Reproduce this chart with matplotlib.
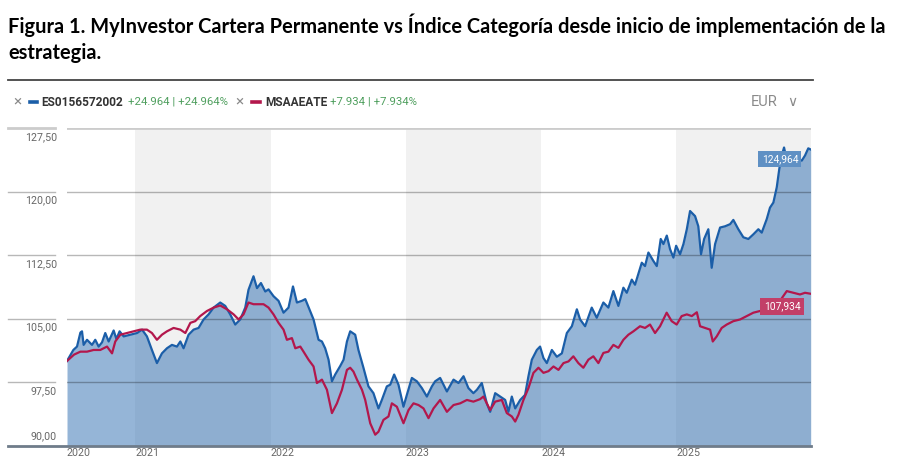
import matplotlib
matplotlib.use("Agg")
import matplotlib.pyplot as plt
from matplotlib.lines import Line2D

W, H = 917, 473

# fund (ES0156572002) and category index (MSAAEATE), base 100, x in fractional years
fund_t = [2020.495, 2020.542, 2020.569, 2020.594, 2020.606, 2020.618, 2020.643, 2020.680, 2020.704, 2020.729,
          2020.754, 2020.778, 2020.803, 2020.840, 2020.860, 2020.884, 2020.914, 2020.963, 2021.013, 2021.050,
          2021.086, 2021.123, 2021.160, 2021.197, 2021.234, 2021.271, 2021.308, 2021.333, 2021.357, 2021.394,
          2021.431, 2021.468, 2021.505, 2021.542, 2021.579, 2021.628, 2021.665, 2021.702, 2021.739, 2021.776,
          2021.813, 2021.837, 2021.874, 2021.900, 2021.929, 2021.961, 2021.985, 2022.022, 2022.059, 2022.096,
          2022.133, 2022.166, 2022.195, 2022.232, 2022.257, 2022.293, 2022.318, 2022.355, 2022.380, 2022.404,
          2022.429, 2022.454, 2022.478, 2022.515, 2022.540, 2022.565, 2022.589, 2022.626, 2022.650, 2022.687,
          2022.724, 2022.761, 2022.798, 2022.823, 2022.860, 2022.885, 2022.914, 2022.946, 2022.983, 2023.008,
          2023.045, 2023.082, 2023.119, 2023.156, 2023.193, 2023.217, 2023.254, 2023.304, 2023.353, 2023.390,
          2023.427, 2023.463, 2023.500, 2023.526, 2023.562, 2023.599, 2023.624, 2023.661, 2023.698, 2023.735,
          2023.759, 2023.784, 2023.809, 2023.846, 2023.882, 2023.907, 2023.932, 2023.969, 2023.993, 2024.018,
          2024.043, 2024.080, 2024.117, 2024.154, 2024.191, 2024.228, 2024.265, 2024.289, 2024.326, 2024.375,
          2024.412, 2024.461, 2024.498, 2024.535, 2024.572, 2024.609, 2024.634, 2024.671, 2024.695, 2024.745,
          2024.769, 2024.794, 2024.831, 2024.856, 2024.885, 2024.905, 2024.930, 2024.954, 2024.979, 2024.999,
          2025.028, 2025.053, 2025.078, 2025.102, 2025.139, 2025.163, 2025.183, 2025.206, 2025.237, 2025.262,
          2025.287, 2025.324, 2025.361, 2025.398, 2025.422, 2025.459, 2025.496, 2025.533, 2025.570, 2025.607,
          2025.632, 2025.669, 2025.693, 2025.718, 2025.743, 2025.762, 2025.780, 2025.797, 2025.817, 2025.841,
          2025.866, 2025.891, 2025.928, 2025.952, 2025.976, 2025.994]
fund_v = [100.0, 101.3, 101.7, 103.35, 103.5, 101.9, 102.5, 101.9, 102.5, 101.7,
          102.2, 103.3, 102.3, 103.6, 102.6, 103.5, 102.9, 103.1, 103.3, 103.7,
          102.9, 101.3, 99.75, 100.9, 101.5, 101.9, 101.7, 102.3, 101.5, 103.1,
          103.7, 103.9, 104.9, 105.5, 106.3, 106.9, 106.5, 105.5, 104.3, 104.9,
          106.3, 108.4, 110.0, 108.6, 109.2, 108.2, 108.45, 107.65, 107.1, 105.7,
          106.3, 108.8, 106.9, 107.1, 107.3, 105.9, 104.9, 102.5, 102.3, 101.5,
          100.15, 97.6, 98.4, 99.4, 100.15, 102.3, 103.5, 103.1, 101.3, 99.2,
          97.0, 96.2, 94.4, 95.4, 97.0, 97.2, 98.4, 97.2, 94.6, 96.0,
          98.0, 97.6, 96.8, 95.8, 97.0, 97.6, 98.0, 96.4, 97.8, 97.4,
          98.2, 96.8, 96.2, 96.6, 97.4, 95.0, 94.0, 96.2, 95.8, 95.4,
          94.0, 95.8, 94.4, 95.4, 96.0, 98.2, 100.15, 101.3, 101.7, 100.35,
          99.75, 101.3, 100.5, 100.9, 103.3, 104.1, 106.1, 104.9, 104.1, 106.3,
          105.1, 106.9, 106.3, 108.25, 106.5, 108.65, 108.05, 109.6, 109.0, 111.6,
          111.2, 112.8, 111.8, 111.2, 114.4, 113.8, 114.8, 113.2, 112.2, 113.6,
          112.6, 113.8, 115.55, 117.7, 117.1, 115.9, 112.6, 114.4, 115.55, 111.0,
          113.8, 115.75, 115.9, 116.15, 116.65, 115.55, 114.6, 114.4, 114.95, 115.55,
          115.15, 116.75, 118.1, 118.7, 120.5, 122.7, 124.25, 125.2, 123.65, 124.05,
          123.25, 123.85, 123.65, 124.25, 125.1, 124.964]

index_t = [2020.495, 2020.547, 2020.594, 2020.643, 2020.692, 2020.741, 2020.791, 2020.828, 2020.852, 2020.889,
           2020.939, 2020.987, 2021.037, 2021.086, 2021.123, 2021.160, 2021.197, 2021.234, 2021.283, 2021.333,
           2021.370, 2021.407, 2021.443, 2021.480, 2021.530, 2021.579, 2021.628, 2021.678, 2021.727, 2021.764,
           2021.800, 2021.837, 2021.874, 2021.900, 2021.948, 2021.985, 2022.022, 2022.059, 2022.096, 2022.121,
           2022.158, 2022.183, 2022.220, 2022.244, 2022.281, 2022.318, 2022.343, 2022.380, 2022.417, 2022.454,
           2022.491, 2022.528, 2022.565, 2022.589, 2022.613, 2022.639, 2022.676, 2022.700, 2022.737, 2022.774,
           2022.798, 2022.835, 2022.872, 2022.897, 2022.934, 2022.983, 2023.020, 2023.057, 2023.094, 2023.131,
           2023.168, 2023.205, 2023.254, 2023.304, 2023.353, 2023.402, 2023.452, 2023.500, 2023.550, 2023.574,
           2023.624, 2023.661, 2023.710, 2023.747, 2023.784, 2023.809, 2023.833, 2023.870, 2023.907, 2023.944,
           2023.981, 2024.018, 2024.055, 2024.092, 2024.129, 2024.166, 2024.203, 2024.239, 2024.276, 2024.313,
           2024.350, 2024.387, 2024.424, 2024.461, 2024.498, 2024.535, 2024.572, 2024.609, 2024.646, 2024.683,
           2024.732, 2024.769, 2024.806, 2024.843, 2024.880, 2024.929, 2024.966, 2025.003, 2025.040, 2025.078,
           2025.115, 2025.152, 2025.176, 2025.213, 2025.250, 2025.270, 2025.299, 2025.336, 2025.373, 2025.422,
           2025.472, 2025.521, 2025.570, 2025.619, 2025.669, 2025.718, 2025.767, 2025.817, 2025.866, 2025.915,
           2025.952, 2025.994]
index_v = [100.0, 100.75, 101.1, 101.1, 101.3, 101.3, 101.7, 100.9, 102.3, 103.1,
           103.3, 103.5, 103.7, 103.7, 103.3, 102.5, 103.1, 103.5, 103.9, 103.7,
           103.3, 104.5, 104.7, 105.3, 105.9, 106.3, 106.55, 106.1, 105.5, 104.9,
           105.5, 106.9, 106.7, 106.7, 106.7, 106.3, 105.5, 104.5, 103.7, 102.5,
           102.7, 101.5, 101.7, 101.1, 100.15, 99.35, 97.4, 97.8, 96.6, 93.85,
           95.0, 96.6, 98.95, 99.2, 98.75, 97.8, 96.6, 95.4, 92.65, 91.3,
           91.65, 93.05, 93.45, 95.0, 94.6, 92.65, 94.2, 95.0, 94.8, 94.4,
           93.25, 94.4, 95.4, 94.0, 94.8, 95.0, 95.4, 95.2, 95.5, 95.8,
           94.2, 95.2, 95.4, 93.85, 93.45, 92.85, 93.65, 95.4, 96.8, 98.6,
           99.2, 98.6, 98.8, 99.35, 98.95, 99.75, 99.95, 100.55, 99.75, 99.2,
           100.15, 100.55, 99.75, 100.95, 101.1, 101.9, 101.55, 102.5, 103.1, 103.5,
           104.1, 103.9, 104.3, 103.3, 104.1, 105.7, 104.7, 104.3, 105.3, 105.5,
           105.3, 105.75, 104.1, 103.9, 103.7, 102.3, 102.9, 103.9, 104.3, 104.7,
           104.9, 105.3, 105.7, 105.9, 106.1, 106.7, 107.1, 108.25, 108.05, 107.85,
           108.05, 107.934]

fund_name = "ES0156572002"
index_name = "MSAAEATE"
year_ticks = [2020.495, 2021, 2022, 2023, 2024, 2025]
year_labels = ["2020", "2021", "2022", "2023", "2024", "2025"]
y_ticks = [90.0, 97.5, 105.0, 112.5, 120.0, 127.5]
shaded_years = [(2021, 2022), (2023, 2024), (2025, 2026)]

BLUE = "#1b5ea8"
RED = "#b3174c"
FILL = "#2d6cb0"
GREEN = "#4f9f5e"
CHART_FONT = ["Roboto", "DejaVu Sans"]


def fx(px):
    return px / W


def fy(py):
    return 1 - py / H


def fmt(v, nd):
    return f"{v:.{nd}f}".replace(".", ",")


fig = plt.figure(figsize=(W / 100, H / 100), dpi=100)

# title
title1 = "Figura 1. MyInvestor Cartera Permanente vs Índice Categoría desde inicio de implementación de la"
fig.text(fx(8), fy(25), title1, fontsize=14.4, fontweight="bold", family="Lato", va="center", color="black")
fig.text(fx(8), fy(53), "estrategia.", fontsize=14.4, fontweight="bold", family="Lato", va="center", color="black")
fig.add_artist(Line2D([fx(8), fx(813)], [fy(80), fy(80)], color="#444444", lw=1.3))

# legend row
row = fy(102)
fund_chg = fund_v[-1] - 100
index_chg = index_v[-1] - 100
fig.text(fx(13), row, "×", fontsize=11, color="#8a8a8a", va="center", family=CHART_FONT)
fig.add_artist(Line2D([fx(30), fx(37)], [row, row], color=BLUE, lw=2.6))
fig.text(fx(41), row, fund_name, fontsize=8.6, fontweight="bold", color="#333333", va="center", family=CHART_FONT)
fig.text(fx(128), row, f"+{fund_chg:.3f} | +{fund_chg:.3f}%", fontsize=8.2, color=GREEN, va="center",
         family=CHART_FONT)
fig.text(fx(235), row, "×", fontsize=11, color="#8a8a8a", va="center", family=CHART_FONT)
fig.add_artist(Line2D([fx(252), fx(260)], [row, row], color=RED, lw=2.6))
fig.text(fx(265), row, index_name, fontsize=8.6, fontweight="bold", color="#333333", va="center", family=CHART_FONT)
fig.text(fx(330), row, f"+{index_chg:.3f} | +{index_chg:.3f}%", fontsize=8.2, color=GREEN, va="center",
         family=CHART_FONT)
fig.text(fx(751), row, "EUR", fontsize=10.5, color="#8a8a8a", va="center", family=CHART_FONT)
fig.text(fx(787), row, "∨", fontsize=10, color="#8a8a8a", va="center", family=["DejaVu Sans"])

# chart area
ax = fig.add_axes([fx(67), fy(445.7), fx(810.7) - fx(67), fy(128) - fy(445.7)])
ax.set_xlim(year_ticks[0], fund_t[-1])
ax.set_ylim(y_ticks[0], y_ticks[-1])
for s in ax.spines.values():
    s.set_visible(False)
ax.set_xticks([])
ax.set_yticks([])

for a, b in shaded_years:
    ax.axvspan(a, b, color="#f1f1f1", lw=0, zorder=0)

ax.fill_between(fund_t, fund_v, y_ticks[0], color=FILL, alpha=0.5, lw=0, zorder=2)

ytr = ax.get_yaxis_transform()
left_a, left_b = (8 - 67) / (810.7 - 67), (55 - 67) / (810.7 - 67)
lab_x = (57 - 67) / (810.7 - 67)
for v in y_ticks:
    dy = -6.3
    if v == y_ticks[-1]:
        kw = dict(color="#cccccc", lw=2.0)
        ax.plot([0, 1], [v, v], transform=ytr, zorder=3, **kw)
        ax.plot([left_a, left_b], [v, v], transform=ytr, clip_on=False, **kw)
    elif v == y_ticks[0]:
        ax.plot([left_a, 1], [v, v], transform=ytr, clip_on=False, color="#6f7c8a", lw=2.0, zorder=6)
        dy = 6.8
    else:
        kw = dict(color="black", alpha=0.28, lw=1.0)
        ax.plot([0, 1], [v, v], transform=ytr, zorder=3, **kw)
        ax.plot([left_a, left_b], [v, v], transform=ytr, clip_on=False, **kw)
    ax.annotate(fmt(v, 2), xy=(lab_x, v), xycoords=ytr, xytext=(0, dy),
                textcoords="offset points", ha="right", va="center", fontsize=7.7, color="#666666",
                family=CHART_FONT, annotation_clip=False)

xtr = ax.get_xaxis_transform()
for t, lab in zip(year_ticks, year_labels):
    ax.annotate(lab, xy=(t, 0), xycoords=xtr, xytext=(0, -5.4), textcoords="offset points",
                ha="left", va="center", fontsize=7.7, color="#666666", family=CHART_FONT,
                annotation_clip=False)

ax.plot(fund_t, fund_v, color=BLUE, lw=1.6, zorder=4)
ax.plot(index_t, index_v, color=RED, lw=1.6, zorder=5)

# end-value tags
ax.annotate(fmt(fund_v[-1], 3), xy=(fund_t[-1], fund_v[-1]), xytext=(-9, -6.8), textcoords="offset points",
            ha="right", va="center", fontsize=7.4, color="white", family=CHART_FONT, zorder=7,
            bbox=dict(boxstyle="square,pad=0.32", fc="#5f90c4", ec="none"))
ax.annotate(fmt(index_v[-1], 3), xy=(index_t[-1], index_v[-1]), xytext=(-7.5, -9.2), textcoords="offset points",
            ha="right", va="center", fontsize=7.4, color="white", family=CHART_FONT, zorder=7,
            bbox=dict(boxstyle="square,pad=0.32", fc="#c23f68", ec="none"))

fig.savefig("out.png", dpi=100)
